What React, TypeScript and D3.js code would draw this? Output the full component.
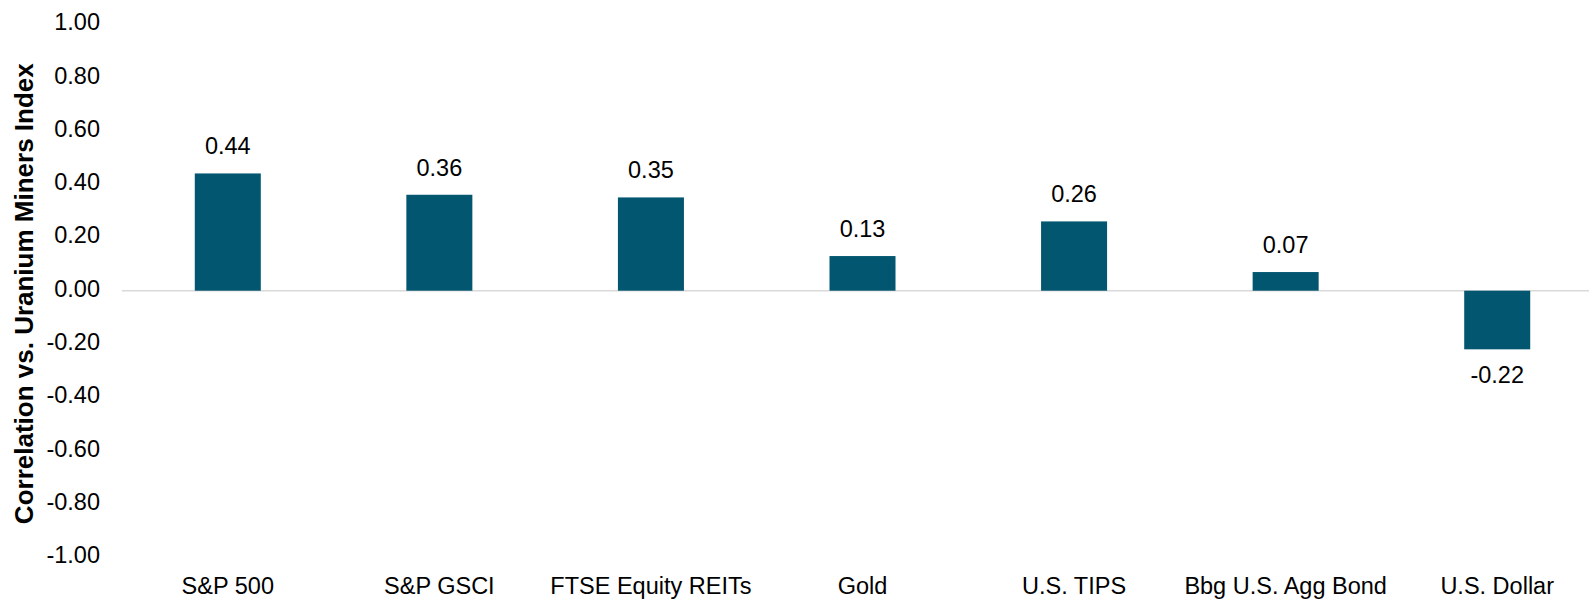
import * as d3 from "d3";

// data
const categories = [
  "S&P 500",
  "S&P GSCI",
  "FTSE Equity REITs",
  "Gold",
  "U.S. TIPS",
  "Bbg U.S. Agg Bond",
  "U.S. Dollar",
];
const correlations = [0.44, 0.36, 0.35, 0.13, 0.26, 0.07, -0.22];
const yTicks = [1, 0.8, 0.6, 0.4, 0.2, 0, -0.2, -0.4, -0.6, -0.8, -1];

export default function App() {
  const width = 1589;
  const height = 600;
  const font = "'Liberation Sans', Arial, sans-serif";
  const barColor = "#02566F";

  // plot area
  const left = 122;
  const right = 1603;
  const top = 24.2;
  const bottom = 557.2;

  const x = d3
    .scaleBand<string>()
    .domain(categories)
    .range([left, right])
    .paddingInner(0.688)
    .paddingOuter(0.344);

  const y = d3.scaleLinear().domain([-1, 1]).range([bottom, top]);
  // plain hyphen for negatives, like the reference
  const fmt = d3.formatLocale({
    decimal: ".",
    thousands: ",",
    grouping: [3],
    currency: ["$", ""],
    minus: "-",
  }).format(".2f");

  return (
    <svg
      width={width}
      height={height}
      style={{ position: "absolute", left: 0, top: 0, background: "#fff" }}
      fontFamily={font}
    >
      {/* y axis title */}
      <text
        transform={`translate(33, ${(top + bottom) / 2 + 3}) rotate(-90)`}
        textAnchor="middle"
        fontSize={26}
        fontWeight="bold"
        fill="#000"
      >
        Correlation vs. Uranium Miners Index
      </text>

      {/* y tick labels */}
      {yTicks.map((t) => (
        <text
          key={t}
          x={100}
          y={y(t) + 6}
          textAnchor="end"
          fontSize={23.5}
          fill="#000"
        >
          {fmt(t)}
        </text>
      ))}

      {/* zero line */}
      <line
        x1={left}
        x2={width}
        y1={y(0)}
        y2={y(0)}
        stroke="#D9D9D9"
        strokeWidth={1.5}
      />

      {/* bars */}
      {categories.map((c, i) => {
        const v = correlations[i];
        const cx = (x(c) ?? 0) + x.bandwidth() / 2;
        return (
          <g key={c}>
            <rect
              x={x(c)}
              y={Math.min(y(v), y(0))}
              width={x.bandwidth()}
              height={Math.abs(y(v) - y(0))}
              fill={barColor}
            />
            <text
              x={cx}
              y={v >= 0 ? y(v) - 19 : y(v) + 34}
              textAnchor="middle"
              fontSize={23.5}
              fill="#000"
            >
              {fmt(v)}
            </text>
            <text
              x={cx}
              y={594}
              textAnchor="middle"
              fontSize={23.5}
              fill="#000"
            >
              {c}
            </text>
          </g>
        );
      })}
    </svg>
  );
}
